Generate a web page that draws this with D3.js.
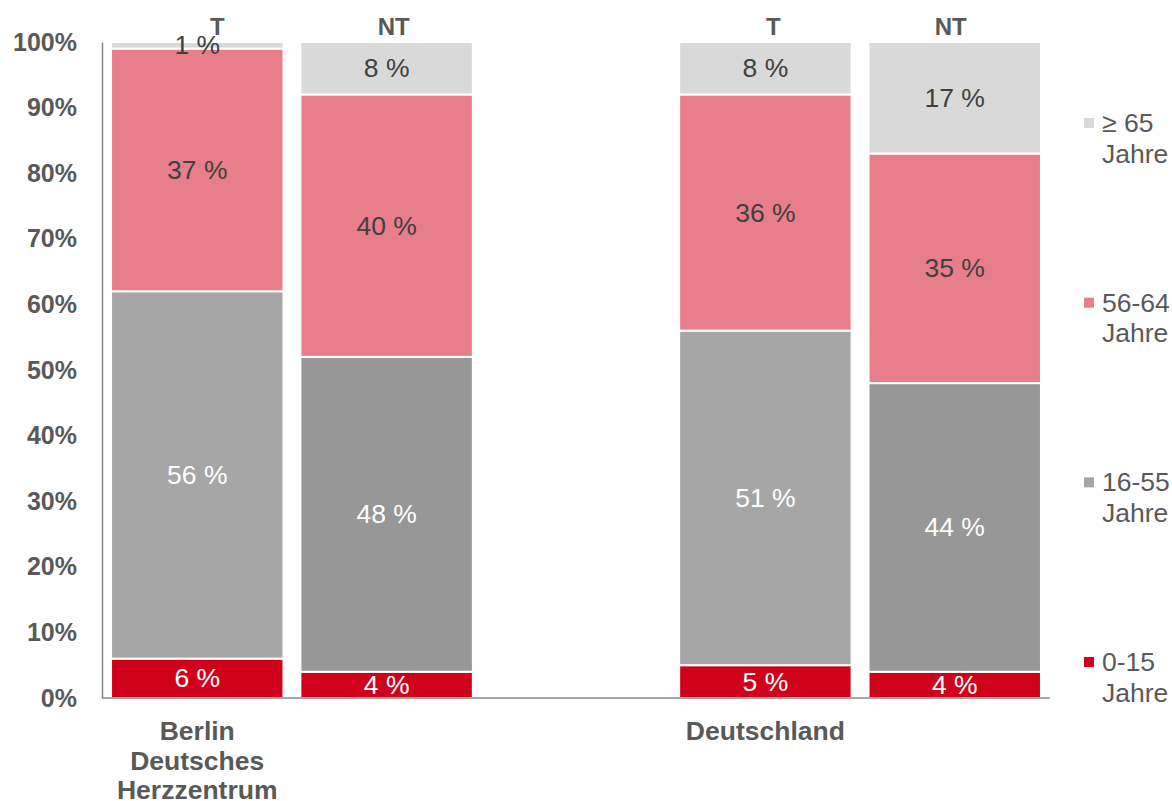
<!DOCTYPE html>
<html>
<head>
<meta charset="utf-8">
<script src="https://cdn.jsdelivr.net/npm/d3@7"></script>
<style>
  html, body { margin: 0; padding: 0; background: #fff; }
  svg { display: block; font-family: "Liberation Sans", Arial, sans-serif; }
</style>
</head>
<body>
<svg id="chart" width="1172" height="801"></svg>
<script>
// ---- Data ----
const groups = ["Berlin Deutsches Herzzentrum", "Deutschland"];
const groupLabelLines = [["Berlin", "Deutsches", "Herzzentrum"], ["Deutschland"]];
const types = ["T", "NT"];
const ageGroups = ["0-15 Jahre", "16-55 Jahre", "56-64 Jahre", "≥ 65 Jahre"];
const legendLines = [["0-15", "Jahre"], ["16-55", "Jahre"], ["56-64", "Jahre"], ["≥ 65", "Jahre"]];
// percent per age group (bottom to top)
const berlinT  = [6, 56, 37, 1];
const berlinNT = [4, 48, 40, 8];
const deT      = [5, 51, 36, 8];
const deNT     = [4, 44, 35, 17];
const yTicks = [0, 10, 20, 30, 40, 50, 60, 70, 80, 90, 100];

// ---- Styles / layout ----
const colorsT  = ["#D0021B", "#A6A6A6", "#E87E89", "#D9D9D9"];
const colorsNT = ["#D0021B", "#979797", "#E87E89", "#D9D9D9"];
const labelColors = ["#ffffff", "#ffffff", "#404040", "#404040"];
const textGrey = "#595959";
const FS = 25;
const FS2 = 26.5;

const bars = [
  { key: "B-T",  group: 0, type: "T",  values: berlinT,  colors: colorsT,  hdx: 20 },
  { key: "B-NT", group: 0, type: "NT", values: berlinNT, colors: colorsNT, hdx: 7 },
  { key: "D-T",  group: 1, type: "T",  values: deT,      colors: colorsT,  hdx: 8 },
  { key: "D-NT", group: 1, type: "NT", values: deNT,     colors: colorsNT, hdx: -4 }
];
const slots = ["B-T", "B-NT", "gap", "D-T", "D-NT"];

const svg = d3.select("#chart");
const plot = { left: 102, right: 1050, top: 42, bottom: 698 };

const x = d3.scaleBand().domain(slots).range([plot.left, plot.right])
  .paddingInner(0.1).paddingOuter(0.053);
const y = d3.scaleLinear().domain([0, 100]).range([plot.bottom, plot.top]);

// Y axis labels
const yAxis = d3.axisLeft(y).tickValues(yTicks).tickSize(0).tickPadding(25)
  .tickFormat(d => d + "%");
const ya = svg.append("g").attr("transform", `translate(${plot.left},0)`).call(yAxis);
ya.select(".domain").attr("stroke", "#898989").attr("stroke-width", 1.5);
ya.selectAll("text").attr("font-size", FS).attr("font-weight", "bold")
  .attr("fill", textGrey).attr("font-family", "Liberation Sans, Arial, sans-serif");

// Bars
bars.forEach(b => {
  let cum = 0;
  const segs = b.values.map((v, i) => {
    const s = { v, i, y0: cum, y1: cum + v };
    cum += v;
    return s;
  });
  const g = svg.append("g");
  g.selectAll("rect").data(segs).join("rect")
    .attr("x", x(b.key) - 1)
    .attr("width", x.bandwidth() + 2)
    .attr("y", d => y(d.y1))
    .attr("height", d => y(d.y0) - y(d.y1))
    .attr("fill", d => b.colors[d.i])
    .attr("stroke", "#fff").attr("stroke-width", 2);
  g.selectAll("text").data(segs).join("text")
    .attr("x", x(b.key) + x.bandwidth() / 2)
    .attr("y", d => y((d.y0 + d.y1) / 2))
    .attr("text-anchor", "middle").attr("dominant-baseline", "central")
    .attr("font-size", FS2)
    .attr("fill", d => labelColors[d.i])
    .text(d => d.v + " %");
  // header T / NT
  svg.append("text")
    .attr("x", x(b.key) + x.bandwidth() / 2 + b.hdx)
    .attr("y", 26)
    .attr("text-anchor", "middle").attr("dominant-baseline", "central")
    .attr("font-size", FS - 1).attr("font-weight", "bold").attr("fill", textGrey)
    .text(b.type);
});

// X axis baseline
svg.append("line")
  .attr("x1", plot.left).attr("x2", plot.right)
  .attr("y1", plot.bottom).attr("y2", plot.bottom)
  .attr("stroke", "#898989").attr("stroke-width", 1.5);

// Category labels (under T bar of each group)
groupLabelLines.forEach((lines, gi) => {
  const key = bars.find(b => b.group === gi && b.type === "T").key;
  const t = svg.append("text")
    .attr("text-anchor", "middle")
    .attr("font-size", FS2).attr("font-weight", "bold").attr("fill", textGrey);
  lines.forEach((ln, li) => {
    t.append("tspan")
      .attr("x", x(key) + x.bandwidth() / 2)
      .attr("y", 731 + li * 29.5)
      .attr("dominant-baseline", "central")
      .text(ln);
  });
});

// Legend (top to bottom: reverse order)
const legendY = d3.scalePoint().domain(d3.range(ageGroups.length).reverse())
  .range([123, 662]);
ageGroups.forEach((name, i) => {
  const ly = legendY(i);
  svg.append("rect").attr("x", 1084).attr("y", ly - 5).attr("width", 10).attr("height", 10)
    .attr("fill", colorsT[i]);
  const t = svg.append("text").attr("font-size", FS2).attr("fill", textGrey);
  legendLines[i].forEach((ln, li) => {
    t.append("tspan").attr("x", 1102).attr("y", ly + li * 30.5)
      .attr("dominant-baseline", "central").text(ln);
  });
});
</script>
</body>
</html>
